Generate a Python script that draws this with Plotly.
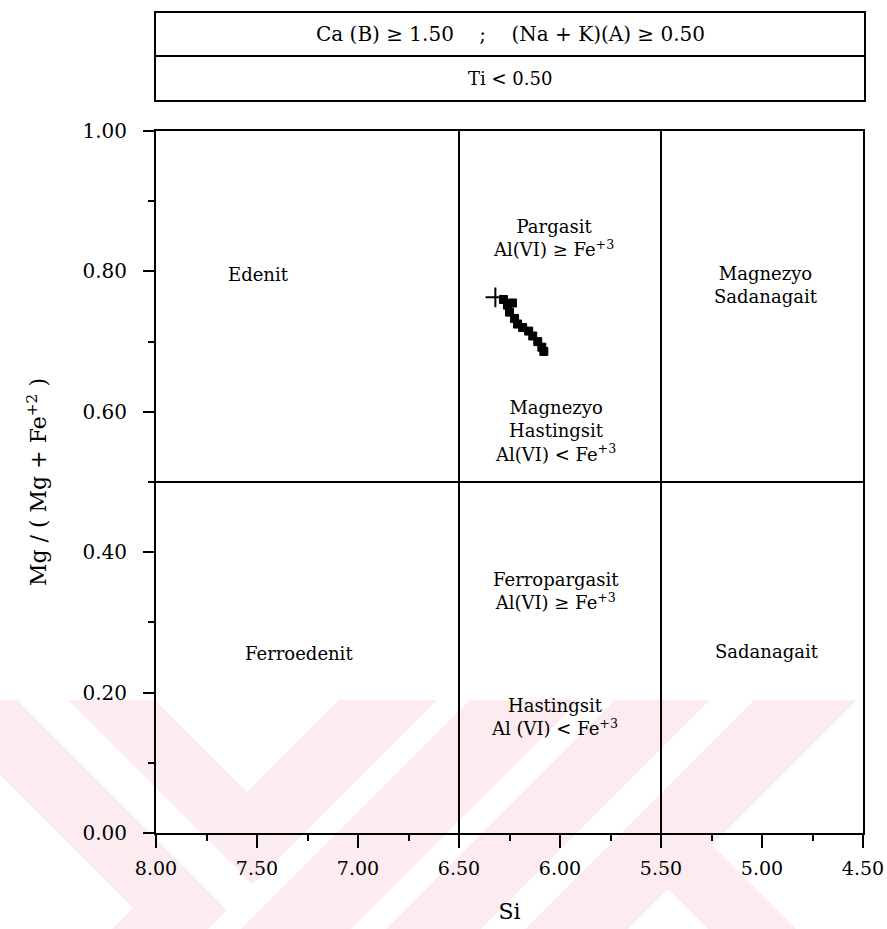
import plotly.graph_objects as go

# ---------------- data ----------------
si_values = [6.32, 6.28, 6.26, 6.235, 6.25, 6.225, 6.21, 6.185, 6.155, 6.135, 6.11, 6.09, 6.08]
mg_values = [0.763, 0.760, 0.752, 0.755, 0.742, 0.733, 0.725, 0.720, 0.715, 0.708, 0.700, 0.692, 0.686]
marker_kinds = ["cross"] + ["square"] * 12

si_boundaries = [6.5, 5.5]
mg_boundaries = [0.5]

x_range = [8.0, 4.5]
y_range = [0.0, 1.0]

region_names = ["Edenit", "Pargasit<br>Al(VI) ≥ Fe<sup>+3</sup>", "Magnezyo<br>Sadanagait",
                "Magnezyo<br>Hastingsit<br>Al(VI) < Fe<sup>+3</sup>", "Ferroedenit",
                "Ferropargasit<br>Al(VI) ≥ Fe<sup>+3</sup>", "Sadanagait",
                "Hastingsit<br>Al (VI) < Fe<sup>+3</sup>"]
region_x = [7.495, 6.03, 4.98, 6.02, 7.29, 6.02, 4.975, 6.025]
region_y = [0.796, 0.848, 0.780, 0.573, 0.255, 0.345, 0.258, 0.165]

header_lines = ["Ca (B) ≥ 1.50    ;    (Na + K)(A) ≥ 0.50", "Ti < 0.50"]

# ---------------- layout geometry (page pixels) ----------------
W, H = 887, 929
L, R, T, B = 156, 863, 131, 833   # plot area in page pixels


def px(x):
    return (x - L) / (R - L)


def py(y):
    return (B - y) / (B - T)


FONT = "DejaVu Serif"

fig = go.Figure()

cross_x = [x for x, k in zip(si_values, marker_kinds) if k == "cross"]
cross_y = [y for y, k in zip(mg_values, marker_kinds) if k == "cross"]
sq_x = [x for x, k in zip(si_values, marker_kinds) if k == "square"]
sq_y = [y for y, k in zip(mg_values, marker_kinds) if k == "square"]

fig.add_trace(go.Scatter(x=sq_x, y=sq_y, mode="markers",
                         marker=dict(symbol="square", size=8, color="black",
                                     line=dict(color="black", width=1)),
                         showlegend=False, hoverinfo="x+y"))
fig.add_trace(go.Scatter(x=cross_x, y=cross_y, mode="markers",
                         marker=dict(symbol="cross-thin-open", size=14, color="black",
                                     line=dict(color="black", width=2)),
                         showlegend=False, hoverinfo="x+y"))

shapes = []

# watermark (light pink) -- decorative background
pink = "#fcebef"
shapes.append(dict(type="rect", xref="paper", yref="paper", layer="below",
                   x0=px(0), x1=px(W), y0=py(700), y1=py(H),
                   fillcolor=pink, line=dict(width=0)))
white_polys = [
    [(17, 700), (68, 700), (269, 901), (227, 910)],
    [(155, 700), (339, 700), (247, 792)],
    [(0, 775), (133, 908), (112, 929), (0, 929)],
    [(437, 700), (470, 700), (241, 929), (208, 929)],
    [(580, 700), (615, 700), (386, 929), (351, 929)],
    [(710, 700), (754, 700), (525, 929), (481, 929)],
    [(857, 700), (887, 700), (887, 929), (796, 929), (712, 845)],
    [(668, 889), (708, 929), (628, 929)],
]
for poly in white_polys:
    path = "M " + " L ".join(f"{px(a):.5f},{py(b):.5f}" for a, b in poly) + " Z"
    shapes.append(dict(type="path", xref="paper", yref="paper", layer="below",
                       path=path, fillcolor="white", line=dict(width=0)))

# field boundaries
for s in si_boundaries:
    shapes.append(dict(type="line", xref="x", yref="y", x0=s, x1=s,
                       y0=y_range[0], y1=y_range[1], line=dict(color="black", width=2)))
for m in mg_boundaries:
    shapes.append(dict(type="line", xref="x", yref="y", x0=x_range[0], x1=x_range[1],
                       y0=m, y1=m, line=dict(color="black", width=2)))

# header boxes
shapes.append(dict(type="rect", xref="paper", yref="paper",
                   x0=px(155), x1=px(865), y0=py(101), y1=py(12),
                   line=dict(color="black", width=2), fillcolor="rgba(0,0,0,0)"))
shapes.append(dict(type="line", xref="paper", yref="paper",
                   x0=px(155), x1=px(865), y0=py(56), y1=py(56),
                   line=dict(color="black", width=2)))

annotations = []
for txt, yy, fs in zip(header_lines, [34, 79], [20, 18]):
    annotations.append(dict(text=txt, xref="paper", yref="paper", x=px(510), y=py(yy),
                            showarrow=False, xanchor="center", yanchor="middle",
                            font=dict(family=FONT, size=fs, color="black")))

for name, xx, yy in zip(region_names, region_x, region_y):
    annotations.append(dict(text=name, x=xx, y=yy, xref="x", yref="y", showarrow=False,
                            xanchor="center", yanchor="middle", align="center",
                            font=dict(family=FONT, size=18, color="black")))

fig.update_layout(
    width=W, height=H, autosize=False,
    margin=dict(l=L, r=W - R, t=T, b=H - B, pad=0, autoexpand=False),
    paper_bgcolor="white", plot_bgcolor="rgba(0,0,0,0)",
    shapes=shapes, annotations=annotations,
    font=dict(family=FONT, color="black"),
)

fig.update_xaxes(range=x_range, autorange=False, automargin=False,
                 showgrid=False, zeroline=False,
                 showline=True, linecolor="black", linewidth=2, mirror=True,
                 ticks="outside", ticklen=13, tickwidth=2, tickcolor="black",
                 tick0=4.5, dtick=0.5, tickformat=".2f",
                 minor=dict(ticks="outside", ticklen=6, tickwidth=2, tickcolor="black", dtick=0.25),
                 tickfont=dict(family=FONT, size=19, color="black"),
                 ticklabelstandoff=4,
                 title=dict(text="Si", font=dict(family=FONT, size=22, color="black"), standoff=26))

fig.update_yaxes(range=y_range, autorange=False, automargin=False,
                 showgrid=False, zeroline=False,
                 showline=True, linecolor="black", linewidth=2, mirror=True,
                 ticks="outside", ticklen=11, tickwidth=2, tickcolor="black",
                 tick0=0, dtick=0.2, tickformat=".2f",
                 minor=dict(ticks="outside", ticklen=6, tickwidth=2, tickcolor="black", dtick=0.1),
                 tickfont=dict(family=FONT, size=20, color="black"),
                 ticklabelstandoff=12,
                 title=dict(text="Mg / ( Mg + Fe<sup>+2</sup> )",
                            font=dict(family=FONT, size=22, color="black"), standoff=30))

fig.write_html(
    "out.html",
    config={"responsive": False, "displayModeBar": False},
    post_script="document.body.style.margin='0';document.body.style.overflow='hidden';",
)
